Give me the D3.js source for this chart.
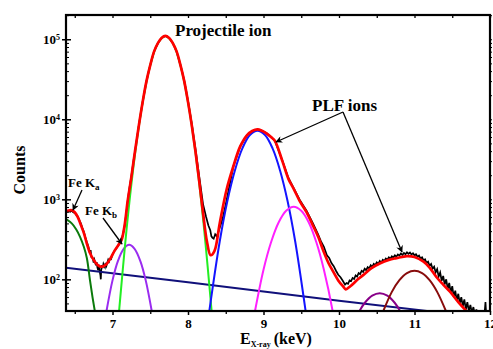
<!DOCTYPE html>
<html>
<head>
<meta charset="utf-8">
<script src="https://cdn.jsdelivr.net/npm/d3@7"></script>
<style>
  body { margin: 0; background: #fff; }
  svg { display: block; }
  svg text { font-family: 'Liberation Serif', 'Times New Roman', serif; font-weight: bold; fill: #000; }
</style>
</head>
<body>
<div id="chart"></div>
<script>
// measured spectrum (noisy) [E keV, counts]
const spectrum = [
  [6.384, 680], [6.40, 700], [6.42, 712], [6.44, 698], [6.46, 722], [6.48, 690], [6.50, 676],
  [6.52, 640], [6.54, 612], [6.56, 548], [6.58, 500], [6.60, 440], [6.62, 392], [6.64, 336],
  [6.66, 292], [6.68, 258], [6.70, 212], [6.71, 232], [6.72, 190], [6.74, 182], [6.75, 162],
  [6.76, 176], [6.78, 150], [6.79, 164], [6.80, 140], [6.81, 130], [6.82, 152], [6.83, 126],
  [6.84, 112], [6.845, 100], [6.85, 128], [6.86, 150], [6.87, 138], [6.88, 156], [6.90, 142],
  [6.91, 160], [6.92, 148], [6.94, 172], [6.95, 160], [6.96, 180], [6.98, 178], [7.00, 204],
  [7.02, 222], [7.04, 236], [7.06, 252], [7.08, 268], [7.10, 290], [7.12, 318], [7.14, 370],
  [7.16, 460], [7.18, 640], [7.20, 930], [7.22, 1300], [7.25, 1950], [7.28, 3100], [7.30, 4050],
  [7.35, 8500], [7.40, 16600], [7.45, 30000], [7.50, 47500], [7.55, 70000], [7.60, 89000],
  [7.65, 104000], [7.70, 110000], [7.75, 104000], [7.80, 89000], [7.85, 70000], [7.90, 47500],
  [7.95, 30500], [8.00, 17000], [8.05, 8800], [8.10, 4200], [8.15, 1900], [8.20, 860],
  [8.24, 600], [8.27, 470], [8.295, 410], [8.31, 345], [8.325, 330], [8.34, 322], [8.36, 365],
  [8.38, 345], [8.40, 385], [8.43, 470], [8.46, 580], [8.50, 860], [8.60, 2570], [8.69, 4550],
  [8.78, 6310], [8.85, 7100], [8.92, 7500], [8.98, 7200], [9.04, 6680], [9.10, 6000],
  [9.15, 5400], [9.25, 3050], [9.33, 1850], [9.40, 1380], [9.48, 980], [9.57, 720], [9.66, 490],
  [9.72, 370], [9.76, 300], [9.80, 255], [9.84, 200], [9.87, 185], [9.90, 160], [9.93, 146],
  [9.96, 128], [9.99, 114], [10.02, 106], [10.05, 96], [10.08, 86], [10.10, 90], [10.12, 88],
  [10.14, 97], [10.16, 95], [10.18, 104], [10.20, 101], [10.22, 112], [10.24, 108], [10.26, 120],
  [10.28, 116], [10.30, 128], [10.32, 124], [10.34, 136], [10.36, 130], [10.38, 142],
  [10.40, 137], [10.42, 150], [10.44, 143], [10.46, 156], [10.48, 150], [10.50, 163],
  [10.52, 156], [10.54, 170], [10.56, 162], [10.58, 176], [10.60, 170], [10.62, 182],
  [10.64, 176], [10.66, 188], [10.68, 181], [10.70, 194], [10.72, 187], [10.74, 200],
  [10.76, 192], [10.78, 205], [10.80, 198], [10.82, 210], [10.84, 202], [10.86, 214],
  [10.88, 206], [10.90, 218], [10.92, 208], [10.94, 216], [10.96, 204], [10.98, 212],
  [11.00, 200], [11.02, 206], [11.04, 192], [11.06, 198], [11.08, 182], [11.10, 188],
  [11.12, 172], [11.14, 178], [11.16, 160], [11.18, 166], [11.20, 148], [11.22, 156],
  [11.24, 136], [11.26, 144], [11.28, 122], [11.30, 134], [11.32, 108], [11.34, 122],
  [11.36, 96], [11.38, 110], [11.40, 86], [11.42, 100], [11.44, 76], [11.46, 90], [11.48, 68],
  [11.50, 82], [11.52, 60], [11.54, 72], [11.56, 54], [11.58, 66], [11.60, 50], [11.62, 60],
  [11.64, 46], [11.66, 56], [11.68, 42], [11.70, 52], [11.72, 40], [11.74, 48], [11.76, 38],
  [11.78, 45], [11.80, 36], [11.82, 42], [11.84, 34], [11.88, 30], [11.92, 30], [11.94, 52],
  [11.955, 30], [12.0, 30]
];

// total fit
const fitTotal = [
  [6.384, 700], [6.42, 725], [6.46, 730], [6.50, 690], [6.54, 600], [6.58, 480], [6.62, 380],
  [6.66, 280], [6.70, 215], [6.75, 175], [6.80, 152], [6.84, 144], [6.88, 146], [6.92, 155],
  [6.97, 180], [7.03, 230], [7.08, 270], [7.12, 310], [7.16, 470], [7.20, 940], [7.25, 1900],
  [7.30, 4100], [7.35, 8500], [7.40, 16600], [7.45, 30000], [7.50, 47500], [7.55, 70000],
  [7.60, 89000], [7.65, 104000], [7.70, 110000], [7.75, 104000], [7.80, 89000], [7.85, 70000],
  [7.90, 47500], [7.95, 30000], [8.00, 16500], [8.05, 8400], [8.10, 3900], [8.15, 1640],
  [8.20, 670], [8.25, 300], [8.30, 200], [8.35, 225], [8.42, 500], [8.51, 1306], [8.60, 2570],
  [8.69, 4550], [8.78, 6310], [8.85, 7150], [8.92, 7500], [8.98, 7200], [9.04, 6680],
  [9.10, 6000], [9.15, 5400], [9.25, 3000], [9.33, 1800], [9.40, 1350], [9.48, 950],
  [9.57, 690], [9.66, 460], [9.73, 330], [9.79, 230], [9.86, 160], [9.925, 124], [9.99, 97],
  [10.057, 81], [10.09, 75], [10.15, 82], [10.25, 100], [10.32, 113], [10.43, 138],
  [10.54, 158], [10.66, 175], [10.76, 184], [10.90, 195], [11.00, 190], [11.12, 166],
  [11.20, 140], [11.29, 107], [11.38, 86], [11.47, 70], [11.58, 52], [11.69, 40], [11.75, 35]
];

// fitted components
const feKa = [[6.384, 565], [6.46, 500], [6.52, 420], [6.57, 340], [6.62, 255], [6.66, 185],
  [6.70, 100], [6.735, 60], [6.77, 38]];
const feKb = [[6.92, 40], [7.0, 97], [7.07, 168], [7.15, 242], [7.22, 270], [7.29, 242],
  [7.37, 168], [7.44, 97], [7.52, 40]];
const projectile = [[7.087, 40], [7.2, 567], [7.3, 3780], [7.4, 16460], [7.5, 47400],
  [7.6, 89100], [7.7, 110000], [7.8, 89100], [7.9, 47400], [8.0, 16460], [8.1, 3780],
  [8.2, 567], [8.313, 40]];
const plf1 = [[8.282, 40], [8.42, 297], [8.52, 940], [8.62, 2280], [8.72, 4330], [8.82, 6360],
  [8.92, 7200], [9.02, 6360], [9.12, 4330], [9.22, 2280], [9.32, 940], [9.42, 297], [9.558, 40]];
const plf2 = [[8.887, 40], [9.0, 132], [9.1, 291], [9.2, 514], [9.3, 720], [9.4, 808],
  [9.5, 720], [9.6, 514], [9.7, 291], [9.8, 132], [9.916, 40]];
const plf3 = [[10.27, 40], [10.34, 50.6], [10.44, 62.5], [10.54, 67], [10.64, 62.5],
  [10.74, 50.6], [10.81, 40]];
const plf4 = [[10.586, 40], [10.7, 69.7], [10.8, 97.6], [10.9, 119.7], [11.0, 128],
  [11.1, 119.7], [11.2, 97.6], [11.3, 69.7], [11.417, 40]];
const background = [[6.384, 140], [8.0, 92], [10.0, 54], [11.25, 39.4]];

const xMajor = [7, 8, 9, 10, 11, 12];
const xMinor = [6.5, 7.5, 8.5, 9.5, 10.5, 11.5];
const yMajor = [1e2, 1e3, 1e4, 1e5];

const width = 493;
const height = 349;
const margin = { top: 15, right: 3, bottom: 38, left: 66 };
const w = width - margin.left - margin.right;
const h = height - margin.top - margin.bottom;

const svg = d3.select('#chart').append('svg')
  .attr('width', width)
  .attr('height', height);

const defs = svg.append('defs');
defs.append('clipPath').attr('id', 'clip')
  .append('rect').attr('width', w).attr('height', h);
defs.append('marker')
  .attr('id', 'arrow')
  .attr('viewBox', '0 0 10 10')
  .attr('refX', 9).attr('refY', 5)
  .attr('markerWidth', 8).attr('markerHeight', 7)
  .attr('markerUnits', 'userSpaceOnUse')
  .attr('orient', 'auto')
  .append('path').attr('d', 'M0,0 L10,5 L0,10 L3,5 z').attr('fill', '#000');

const g = svg.append('g').attr('transform', `translate(${margin.left},${margin.top})`);

const x = d3.scaleLinear().domain([6.384, 12]).range([0, w]);
const y = d3.scaleLog().domain([40.2, 2.01e5]).range([h, 0]);

const line = d3.line()
  .x((d) => x(d[0]))
  .y((d) => y(d[1]));
const smooth = d3.line()
  .x((d) => x(d[0]))
  .y((d) => y(d[1]))
  .curve(d3.curveCatmullRom.alpha(0.5));

const plot = g.append('g').attr('clip-path', 'url(#clip)');

// data
plot.append('path').datum(spectrum).attr('d', line)
  .attr('fill', 'none').attr('stroke', '#000').attr('stroke-width', 1.7);

// components
const comps = [
  [background, '#10107a', line],
  [feKa, '#0b7a0b', smooth],
  [feKb, '#9a2cf0', smooth],
  [projectile, '#22ee22', smooth],
  [plf1, '#1414ff', smooth],
  [plf2, '#ff20ff', smooth],
  [plf3, '#880088', smooth],
  [plf4, '#880c0c', smooth],
];
comps.forEach(([d, c, gen]) => {
  plot.append('path').datum(d).attr('d', gen)
    .attr('fill', 'none').attr('stroke', c).attr('stroke-width', 2);
});

// total fit
plot.append('path').datum(fitTotal).attr('d', smooth)
  .attr('fill', 'none').attr('stroke', '#ff0000').attr('stroke-width', 2.7);

// axes (drop d3's default sans-serif so the css serif applies)
const clean = (a) => {
  a.attr('font-family', null).attr('font-size', null);
  a.select('.domain').remove();
};

g.append('g').attr('transform', `translate(0,${h})`)
  .call(d3.axisBottom(x).tickValues(xMajor).tickSize(4).tickPadding(4).tickFormat(d3.format('d')))
  .call(clean)
  .call((a) => a.selectAll('text').attr('font-size', 13))
  .call((a) => a.selectAll('line').attr('stroke-width', 1.5));
g.append('g').attr('transform', `translate(0,${h})`)
  .call(d3.axisBottom(x).tickValues(xMinor).tickSize(3).tickFormat(''))
  .call(clean)
  .call((a) => a.selectAll('line').attr('stroke-width', 1.3));
g.append('g')
  .call(d3.axisTop(x).tickValues(xMajor.concat(xMinor)).tickSize(-3).tickFormat(''))
  .call(clean)
  .call((a) => a.selectAll('line').attr('stroke-width', 1.3));

const yMinor = [];
[10, 100, 1000, 10000, 100000].forEach((dec) => {
  for (let k = 2; k <= 9; k++) if (dec * k >= 40.2 && dec * k <= 2.01e5) yMinor.push(dec * k);
});

const yAxis = g.append('g')
  .call(d3.axisLeft(y).tickValues(yMajor).tickSize(4).tickFormat(''))
  .call(clean)
  .call((a) => a.selectAll('line').attr('stroke-width', 1.5));
yAxis.selectAll('.tick').append('text')
  .attr('x', -6).attr('dy', '0.35em')
  .attr('text-anchor', 'end')
  .attr('font-size', 13)
  .each(function (d) {
    const t = d3.select(this);
    t.append('tspan').text('10');
    t.append('tspan').attr('dy', '-0.5em').attr('font-size', 8).text(Math.round(Math.log10(d)));
  });
g.append('g')
  .call(d3.axisLeft(y).tickValues(yMinor).tickSize(-3).tickFormat(''))
  .call(clean);
g.append('g')
  .call(d3.axisLeft(y).tickValues(yMajor).tickSize(-5).tickFormat(''))
  .call(clean)
  .call((a) => a.selectAll('line').attr('stroke-width', 1.5));
g.append('g').attr('transform', `translate(${w},0)`)
  .call(d3.axisRight(y).tickValues(yMinor.concat(yMajor)).tickSize(2).tickFormat(''))
  .call(clean);

// frame
g.append('rect').attr('width', w).attr('height', h)
  .attr('fill', 'none').attr('stroke', '#000').attr('stroke-width', 2.2);

// axis titles
svg.append('text')
  .attr('transform', `translate(25,170) rotate(-90)`)
  .attr('text-anchor', 'middle')
  .attr('font-size', 16)
  .text('Counts');

const xt = svg.append('text').attr('x', 240).attr('y', 344).attr('font-size', 16);
xt.append('tspan').text('E');
xt.append('tspan').attr('font-size', 8).attr('dy', 3).text('X-ray');
xt.append('tspan').attr('dy', -3).attr('dx', 3).text('(keV)');

// annotations
svg.append('text').attr('x', 175).attr('y', 36).attr('font-size', 17).text('Projectile ion');
svg.append('text').attr('x', 312).attr('y', 111).attr('font-size', 17).text('PLF ions');

const ka = svg.append('text').attr('x', 68).attr('y', 187).attr('font-size', 13);
ka.append('tspan').text('Fe K');
ka.append('tspan').attr('font-size', 9).attr('dy', 3).text('a');
const kb = svg.append('text').attr('x', 85).attr('y', 215).attr('font-size', 13);
kb.append('tspan').text('Fe K');
kb.append('tspan').attr('font-size', 9).attr('dy', 3).text('b');

const arrows = [
  [82, 190, 73, 210],
  [103, 218, 122, 244],
  [343, 112, 276, 142],
  [343, 112, 402, 252],
];
svg.selectAll('.arrow').data(arrows).enter().append('line')
  .attr('class', 'arrow')
  .attr('x1', (d) => d[0]).attr('y1', (d) => d[1])
  .attr('x2', (d) => d[2]).attr('y2', (d) => d[3])
  .attr('stroke', '#000').attr('stroke-width', 1.3)
  .attr('marker-end', 'url(#arrow)');
</script>
</body>
</html>
